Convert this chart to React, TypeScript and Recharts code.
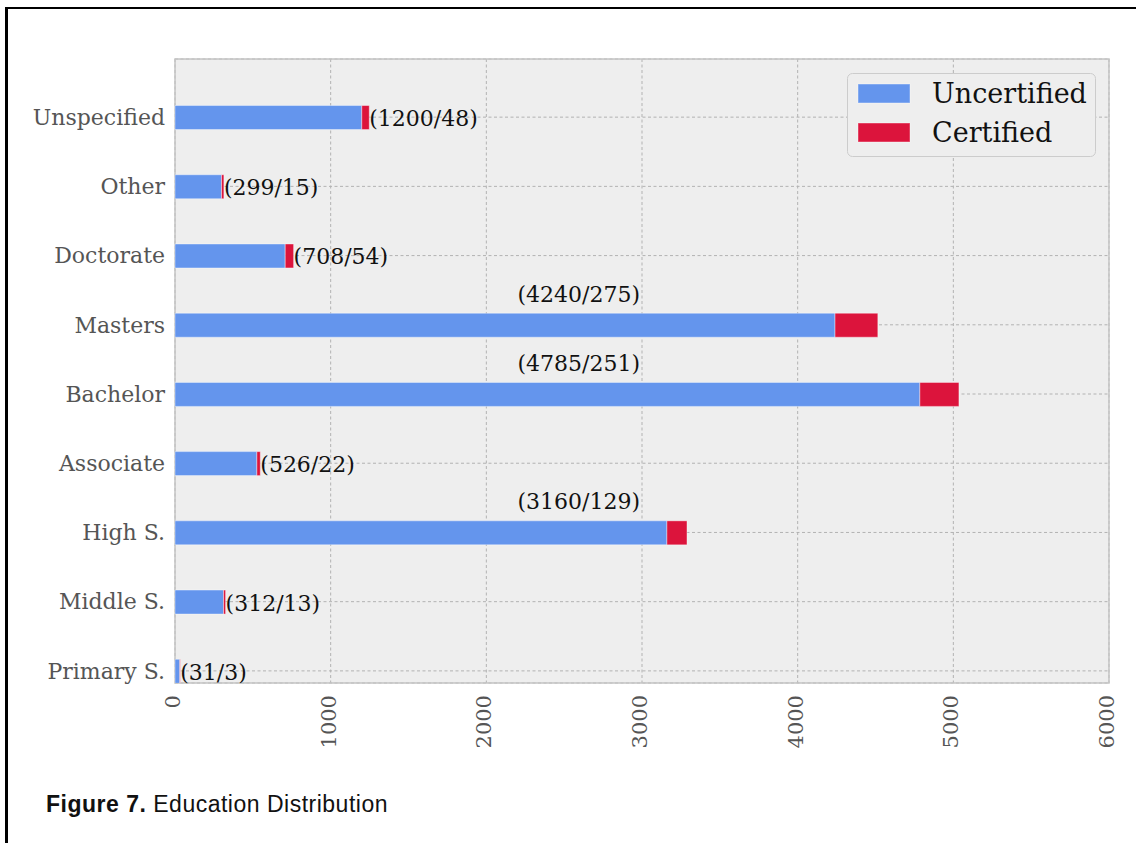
import { BarChart, Bar, XAxis, YAxis, CartesianGrid, Legend, LabelList, ReferenceArea } from 'recharts';

// education levels, bottom to top
const categories = ['Primary S.', 'Middle S.', 'High S.', 'Associate', 'Bachelor', 'Masters', 'Doctorate', 'Other', 'Unspecified'];
const uncertified = [31, 312, 3160, 526, 4785, 4240, 708, 299, 1200];
const certified = [3, 13, 129, 22, 251, 275, 54, 15, 48];
const seriesNames = ['Uncertified', 'Certified'];
const xTicks = [0, 1000, 2000, 3000, 4000, 5000, 6000];
const yTicks = categories.map((_, i) => i);

// long bars get their count label above the bar, starting at this x value
const longBarLimit = 2000;
const longLabelX = 2200;

const data = categories.map((name, i) => ({
  idx: i,
  name,
  uncertified: uncertified[i],
  certified: certified[i],
}));

const SERIF = '"DejaVu Serif", serif';

const XTick = (props: any) => {
  const { x, y, payload } = props;
  return (
    <text
      x={x}
      y={y}
      dy={5}
      transform={`rotate(-90, ${x}, ${y})`}
      textAnchor="end"
      fontSize={21}
      fontFamily={SERIF}
      fill="#555555"
    >
      {payload.value}
    </text>
  );
};

const renderCountLabel = (props: any) => {
  const vb = props.viewBox && props.viewBox.width !== undefined ? props.viewBox : props;
  const x = Number(vb.x);
  const y = Number(vb.y);
  const width = Number(vb.width);
  const height = Number(vb.height);
  const i = props.index;
  if (i == null || !certified[i]) return null;
  const u = uncertified[i];
  const c = certified[i];
  const ppu = width / c;
  const zeroX = x - u * ppu;
  const cy = y + height / 2;
  const text = `(${u}/${c})`;
  const long = u + c > longBarLimit;
  return (
    <text
      x={long ? zeroX + longLabelX * ppu : x + width}
      y={long ? cy - 23.5 : cy + 8.5}
      fontSize={22}
      fontFamily={SERIF}
      fill="#111111"
    >
      {text}
    </text>
  );
};

const renderLegend = (props: any) => {
  const items = [...(props.payload ?? [])].sort(
    (a: any, b: any) => seriesNames.indexOf(a.value) - seriesNames.indexOf(b.value)
  );
  return (
    <svg width={249} height={84} style={{ display: 'block' }}>
      <rect x={0.5} y={0.5} width={248} height={83} rx={5} fill="#eeeeee" stroke="#cccccc" />
      {items.map((it: any, i: number) => (
        <g key={it.value}>
          <rect x={11} y={11 + i * 39} width={52} height={19} fill={it.color} stroke="#ffffff" strokeOpacity={0.4} />
          <text x={85} y={30 + i * 39} fontSize={27} fontFamily={SERIF} fill="#111111">
            {it.value}
          </text>
        </g>
      ))}
    </svg>
  );
};

export default function App() {
  return (
    <div style={{ position: 'absolute', left: 0, top: 0, width: 1136, height: 843, background: '#ffffff', overflow: 'hidden' }}>
      <div
        style={{
          position: 'absolute',
          left: 5,
          top: 7,
          width: 1200,
          height: 900,
          borderLeft: '3px solid #000',
          borderTop: '2.5px solid #000',
        }}
      />
      <div style={{ position: 'absolute', left: 0, top: 0 }}>
        <BarChart
          width={1136}
          height={843}
          data={data}
          layout="vertical"
          margin={{ top: 59, right: 27, bottom: 100, left: 0 }}
        >
          <CartesianGrid fill="#eeeeee" stroke="#b2b2b2" strokeDasharray="3 2.5" />
          <XAxis
            type="number"
            domain={[0, 6000]}
            ticks={xTicks}
            interval={0}
            height={60}
            axisLine={false}
            tickLine={false}
            tickSize={0}
            tickMargin={12}
            tick={<XTick />}
          />
          <YAxis
            type="number"
            dataKey="idx"
            domain={[-0.175, 8.84]}
            allowDataOverflow
            reversed
            ticks={yTicks}
            interval={0}
            width={175}
            axisLine={false}
            tickLine={false}
            tickSize={0}
            tickMargin={10}
            tickFormatter={(v: number) => categories[v] ?? ''}
            tick={{ fontSize: 22, fontFamily: SERIF, fill: '#555555' }}
          />
          <Legend
            layout="vertical"
            align="center"
            verticalAlign="middle"
            content={renderLegend}
            wrapperStyle={{ left: 847, top: 73, width: 249, height: 84 }}
          />
          <Bar
            dataKey="uncertified"
            name="Uncertified"
            stackId="a"
            fill="#6495ED"
            stroke="#ffffff"
            strokeOpacity={0.4}
            strokeWidth={1}
            barSize={24}
            isAnimationActive={false}
          />
          <Bar
            dataKey="certified"
            name="Certified"
            stackId="a"
            fill="#DC143C"
            stroke="#ffffff"
            strokeOpacity={0.4}
            strokeWidth={1}
            barSize={24}
            isAnimationActive={false}
          >
            <LabelList dataKey="certified" content={renderCountLabel} />
          </Bar>
          <ReferenceArea
            x1={0}
            x2={6000}
            y1={-0.175}
            y2={8.84}
            fill="none"
            stroke="#c4c4c4"
            strokeWidth={1.5}
            ifOverflow="visible"
          />
        </BarChart>
      </div>
      <div
        style={{
          position: 'absolute',
          left: 46,
          top: 790,
          fontFamily: '"Liberation Sans", Arial, sans-serif',
          fontSize: 23,
          letterSpacing: 0.5,
          lineHeight: '28px',
          color: '#111111',
          whiteSpace: 'nowrap',
        }}
      >
        <b>Figure 7.</b> Education Distribution
      </div>
    </div>
  );
}
